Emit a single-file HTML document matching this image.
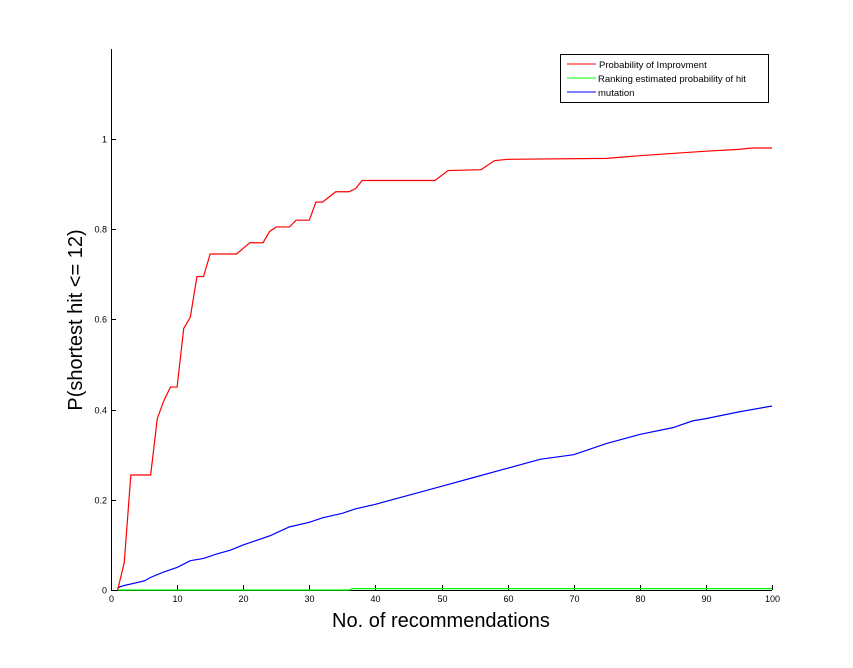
<!DOCTYPE html>
<html><head><meta charset="utf-8"><style>
body{margin:0;background:#fff;}
svg text{font-family:"Liberation Sans",Arial,sans-serif;}
</style></head><body>
<svg id="chart" width="853" height="663" viewBox="0 0 853 663">
<rect width="853" height="663" fill="#fff"/>
<g id="axes"></g>
<g id="series"></g>
<text x="441" y="627" font-size="20" text-anchor="middle">No. of recommendations</text>
<text transform="translate(82,320) rotate(-90)" font-size="20" text-anchor="middle">P(shortest hit &lt;= 12)</text>
<g>
<rect x="560.5" y="54.5" width="208" height="48" fill="#fff" stroke="#000"/>
<line x1="567" y1="64" x2="596" y2="64" stroke="#f00"/>
<text x="599" y="68" font-size="9.5">Probability of Improvment</text>
<line x1="567" y1="78" x2="596" y2="78" stroke="#0f0"/>
<text x="598" y="82" font-size="9.5">Ranking estimated probability of hit</text>
<line x1="567" y1="92" x2="596" y2="92" stroke="#00f"/>
<text x="598" y="96" font-size="9.5">mutation</text>
</g>
</svg>
<script>
const xTicks=[0,10,20,30,40,50,60,70,80,90,100];
const yTicks=[0,0.2,0.4,0.6,0.8,1];
const yTickLabels=["0","0.2","0.4","0.6","0.8","1"];
const redX=[1,2,3,6,7,8,9,10,11,12,13,14,15,19,21,23,24,25,27,28,30,31,32,34,36,37,38,49,51,56,58,60,75,80,90,95,97,100];
const redY=[0,0.06,0.255,0.255,0.38,0.42,0.45,0.45,0.58,0.605,0.695,0.695,0.745,0.745,0.77,0.77,0.795,0.805,0.805,0.82,0.82,0.86,0.86,0.883,0.883,0.89,0.908,0.908,0.93,0.932,0.952,0.955,0.957,0.963,0.973,0.977,0.98,0.98];
const blueX=[1,2,5,6,8,10,12,14,16,18,20,22,24,27,30,32,35,37,40,45,50,55,60,65,70,75,80,85,88,90,95,100];
const blueY=[0.005,0.01,0.02,0.028,0.04,0.05,0.065,0.07,0.08,0.088,0.1,0.11,0.12,0.14,0.15,0.16,0.17,0.18,0.19,0.21,0.23,0.25,0.27,0.29,0.3,0.325,0.345,0.36,0.375,0.38,0.395,0.408];
const greenX=[1,36,36.5,74,74.5,100];
const greenY=[0,0,0.003,0.003,0.003,0.003];
const X0=111,X1=772,Y0=590,YTOP=49;
function sx(v){return X0+(v-0)/100*(X1-X0);}
function sy(v){return Y0-v*451;}
const NS="http://www.w3.org/2000/svg";
const axes=document.getElementById('axes'),ser=document.getElementById('series');
function mk(tag,attrs,parent){const e=document.createElementNS(NS,tag);for(const k in attrs)e.setAttribute(k,attrs[k]);parent.appendChild(e);return e;}
let a=mk('path',{d:`M${X0+.5} ${YTOP} V${Y0+.5} H${X1}`,fill:'none',stroke:'#000'},axes);


xTicks.forEach(t=>{const x=Math.round(sx(t))+.5;
 mk('line',{x1:x,y1:Y0,x2:x,y2:Y0-5,stroke:'#000'},axes);
 const tx=mk('text',{x:x,y:Y0+12,'font-size':9,'text-anchor':'middle'},axes);tx.textContent=t;
 
 });
yTicks.forEach((t,i)=>{const y=Math.round(sy(t))+.5;
 mk('line',{x1:X0,y1:y,x2:X0+5,y2:y,stroke:'#000'},axes);
 const tx=mk('text',{x:X0-4,y:y+3,'font-size':9,'text-anchor':'end'},axes);tx.textContent=yTickLabels[i];
 
 });
function line(xs,ys,col,name){const p=mk('polyline',{points:xs.map((x,i)=>sx(x)+','+sy(ys[i])).join(' '),fill:'none',stroke:col,'stroke-width':1.2},ser);
 
 }
line(greenX,greenY,'#0f0','series-ranking');
line(blueX,blueY,'#00f','series-mutation');
line(redX,redY,'#f00','series-poi');
</script>
</body></html>
